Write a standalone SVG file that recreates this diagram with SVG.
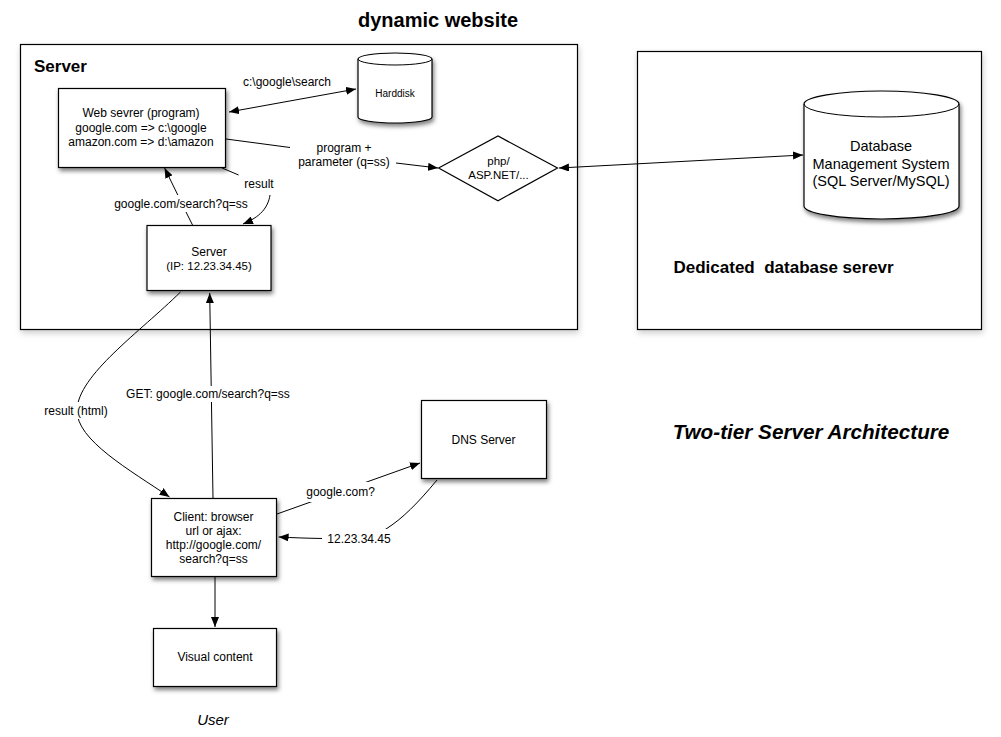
<svg xmlns="http://www.w3.org/2000/svg" width="1001" height="737" viewBox="0 0 1001 737">
<style>
text{font-family:"Liberation Sans",Arial,Helvetica,sans-serif;fill:#000}
.t12{font-size:12px;text-anchor:middle}
.t11{font-size:11px;text-anchor:middle}
.bold{font-weight:bold}
.box{fill:#fff;stroke:#000;stroke-width:1.2}
.cont{fill:#fff;stroke:#000;stroke-width:1.2}
.ln{fill:none;stroke:#000;stroke-width:1}
.lbg{fill:#fff}
</style>
<defs>
<filter id="sh" x="-20%" y="-20%" width="150%" height="150%">
<feDropShadow dx="1.5" dy="3" stdDeviation="2" flood-color="#000" flood-opacity="0.5"/>
</filter>
<filter id="shc" x="-10%" y="-10%" width="120%" height="120%">
<feDropShadow dx="1" dy="3" stdDeviation="3" flood-color="#000" flood-opacity="0.2"/>
</filter>
<marker id="ah" viewBox="0 0 10 8" refX="10" refY="4" markerWidth="10" markerHeight="8" markerUnits="userSpaceOnUse" orient="auto-start-reverse">
<path d="M0,0 L10,4 L0,8 Z" fill="#000"/>
</marker>
</defs>

<text x="438" y="27" class="bold" style="font-size:20px;text-anchor:middle">dynamic website</text>

<g id="server-container">
<rect x="20.5" y="44.5" width="557" height="285" class="cont" filter="url(#shc)"/>
<text x="34" y="72" class="bold" style="font-size:17px">Server</text>
</g>

<g id="db-container">
<rect x="637.5" y="51.5" width="344" height="278" class="cont" filter="url(#shc)"/>
<text x="673.5" y="273" class="bold" style="font-size:17px" xml:space="preserve">Dedicated  database serevr</text>
</g>

<g id="connectors">
<line x1="229" y1="112" x2="356" y2="89" class="ln" marker-start="url(#ah)" marker-end="url(#ah)"/>
<text x="287" y="86" class="t12">c:\google\search</text>

<polyline points="226,139 290,147.5" class="ln"/>
<line x1="396" y1="163" x2="438" y2="168" class="ln" marker-end="url(#ah)"/>
<text x="344" y="152" class="t12">program +</text>
<text x="344" y="166" class="t12">parameter (q=ss)</text>

<line x1="559" y1="168" x2="803" y2="155" class="ln" marker-start="url(#ah)" marker-end="url(#ah)"/>

<line x1="192.5" y1="225" x2="186" y2="212" class="ln"/>
<line x1="177.8" y1="195" x2="164.6" y2="168" class="ln" marker-end="url(#ah)"/>
<text x="181" y="208" class="t12">google.com/search?q=ss</text>

<line x1="222" y1="168" x2="238.6" y2="175" class="ln"/>
<path d="M270,195 C268,208 260,217 243,224" class="ln" marker-end="url(#ah)"/>
<text x="259" y="188" class="t12">result</text>

<path d="M180.5,292 C140,332 78,375 77,410 C76,440 130,470 169.5,497" class="ln" marker-end="url(#ah)"/>
<rect x="42" y="402" width="68" height="17" class="lbg"/>
<text x="76" y="415" class="t12">result (html)</text>

<line x1="213" y1="498" x2="209.7" y2="293" class="ln" marker-end="url(#ah)"/>
<rect x="126" y="386" width="166" height="16" class="lbg"/>
<text x="208" y="398" class="t12">GET: google.com/search?q=ss</text>

<line x1="277" y1="514" x2="420" y2="463" class="ln" marker-end="url(#ah)"/>
<rect x="306" y="482" width="70" height="20" class="lbg"/>
<text x="340.6" y="496" class="t12">google.com?</text>

<path d="M437,480 C418,503 402,519 386,529 C370,539 340,540 278.6,537" class="ln" marker-end="url(#ah)"/>
<rect x="322" y="529" width="71" height="19" class="lbg"/>
<text x="359" y="543" class="t12">12.23.34.45</text>

<line x1="215" y1="577" x2="215" y2="627" class="ln" marker-end="url(#ah)"/>
</g>

<g id="harddisk">
<path d="M358,59 A37,6 0 0 1 432,59 L432,117 A37,6 0 0 1 358,117 Z" class="box" filter="url(#sh)"/>
<path d="M358,59 A37,6 0 0 0 432,59" class="ln"/>
<text x="395" y="96.5" style="font-size:10px;text-anchor:middle">Harddisk</text>
</g>

<g id="web-server">
<rect x="58.5" y="88.5" width="167" height="79" class="box" filter="url(#sh)"/>
<text x="141" y="117" class="t12">Web sevrer (program)</text>
<text x="141" y="131.5" class="t12">google.com =&gt; c:\google</text>
<text x="141" y="146" class="t12">amazon.com =&gt; d:\amazon</text>
</g>

<g id="php">
<polygon points="438.6,168 498,136 557.5,168 498,200.7" class="box"/>
<text x="498.5" y="164.5" style="font-size:11.5px;text-anchor:middle">php/</text>
<text x="498.5" y="179" style="font-size:11.5px;text-anchor:middle">ASP.NET/...</text>
</g>

<g id="dbms">
<path d="M804,104 A77.5,13 0 0 1 959,104 L959,206 A77.5,13 0 0 1 804,206 Z" class="box" filter="url(#sh)"/>
<path d="M804,104 A77.5,13 0 0 0 959,104" class="ln"/>
<text x="881" y="151" style="font-size:14.5px;text-anchor:middle">Database</text>
<text x="881" y="169" style="font-size:14.5px;text-anchor:middle">Management System</text>
<text x="881" y="186" style="font-size:14.5px;text-anchor:middle">(SQL Server/MySQL)</text>
</g>

<g id="server-box">
<rect x="147" y="225.5" width="124" height="65" class="box" filter="url(#sh)"/>
<text x="209" y="256" class="t12">Server</text>
<text x="209" y="270" style="font-size:11.5px;text-anchor:middle">(IP: 12.23.34.45)</text>
</g>

<g id="dns-server">
<rect x="421.5" y="400.5" width="125" height="78" class="box" filter="url(#sh)"/>
<text x="483.5" y="444" class="t12">DNS Server</text>
</g>

<g id="client">
<rect x="151.5" y="498.5" width="125" height="78" class="box" filter="url(#sh)"/>
<text x="213.5" y="521" class="t12">Client: browser</text>
<text x="213.5" y="535" class="t12">url or ajax:</text>
<text x="213.5" y="549" class="t12">http://google.com/</text>
<text x="213.5" y="563" class="t12">search?q=ss</text>
</g>

<g id="visual-content">
<rect x="153.5" y="628.5" width="123" height="58" class="box" filter="url(#sh)"/>
<text x="215" y="661" class="t12">Visual content</text>
</g>

<text x="213" y="725" style="font-size:15px;font-style:italic;text-anchor:middle">User</text>
<text x="811" y="439" class="bold" style="font-size:20.7px;font-style:italic;text-anchor:middle">Two-tier Server Architecture</text>
</svg>
